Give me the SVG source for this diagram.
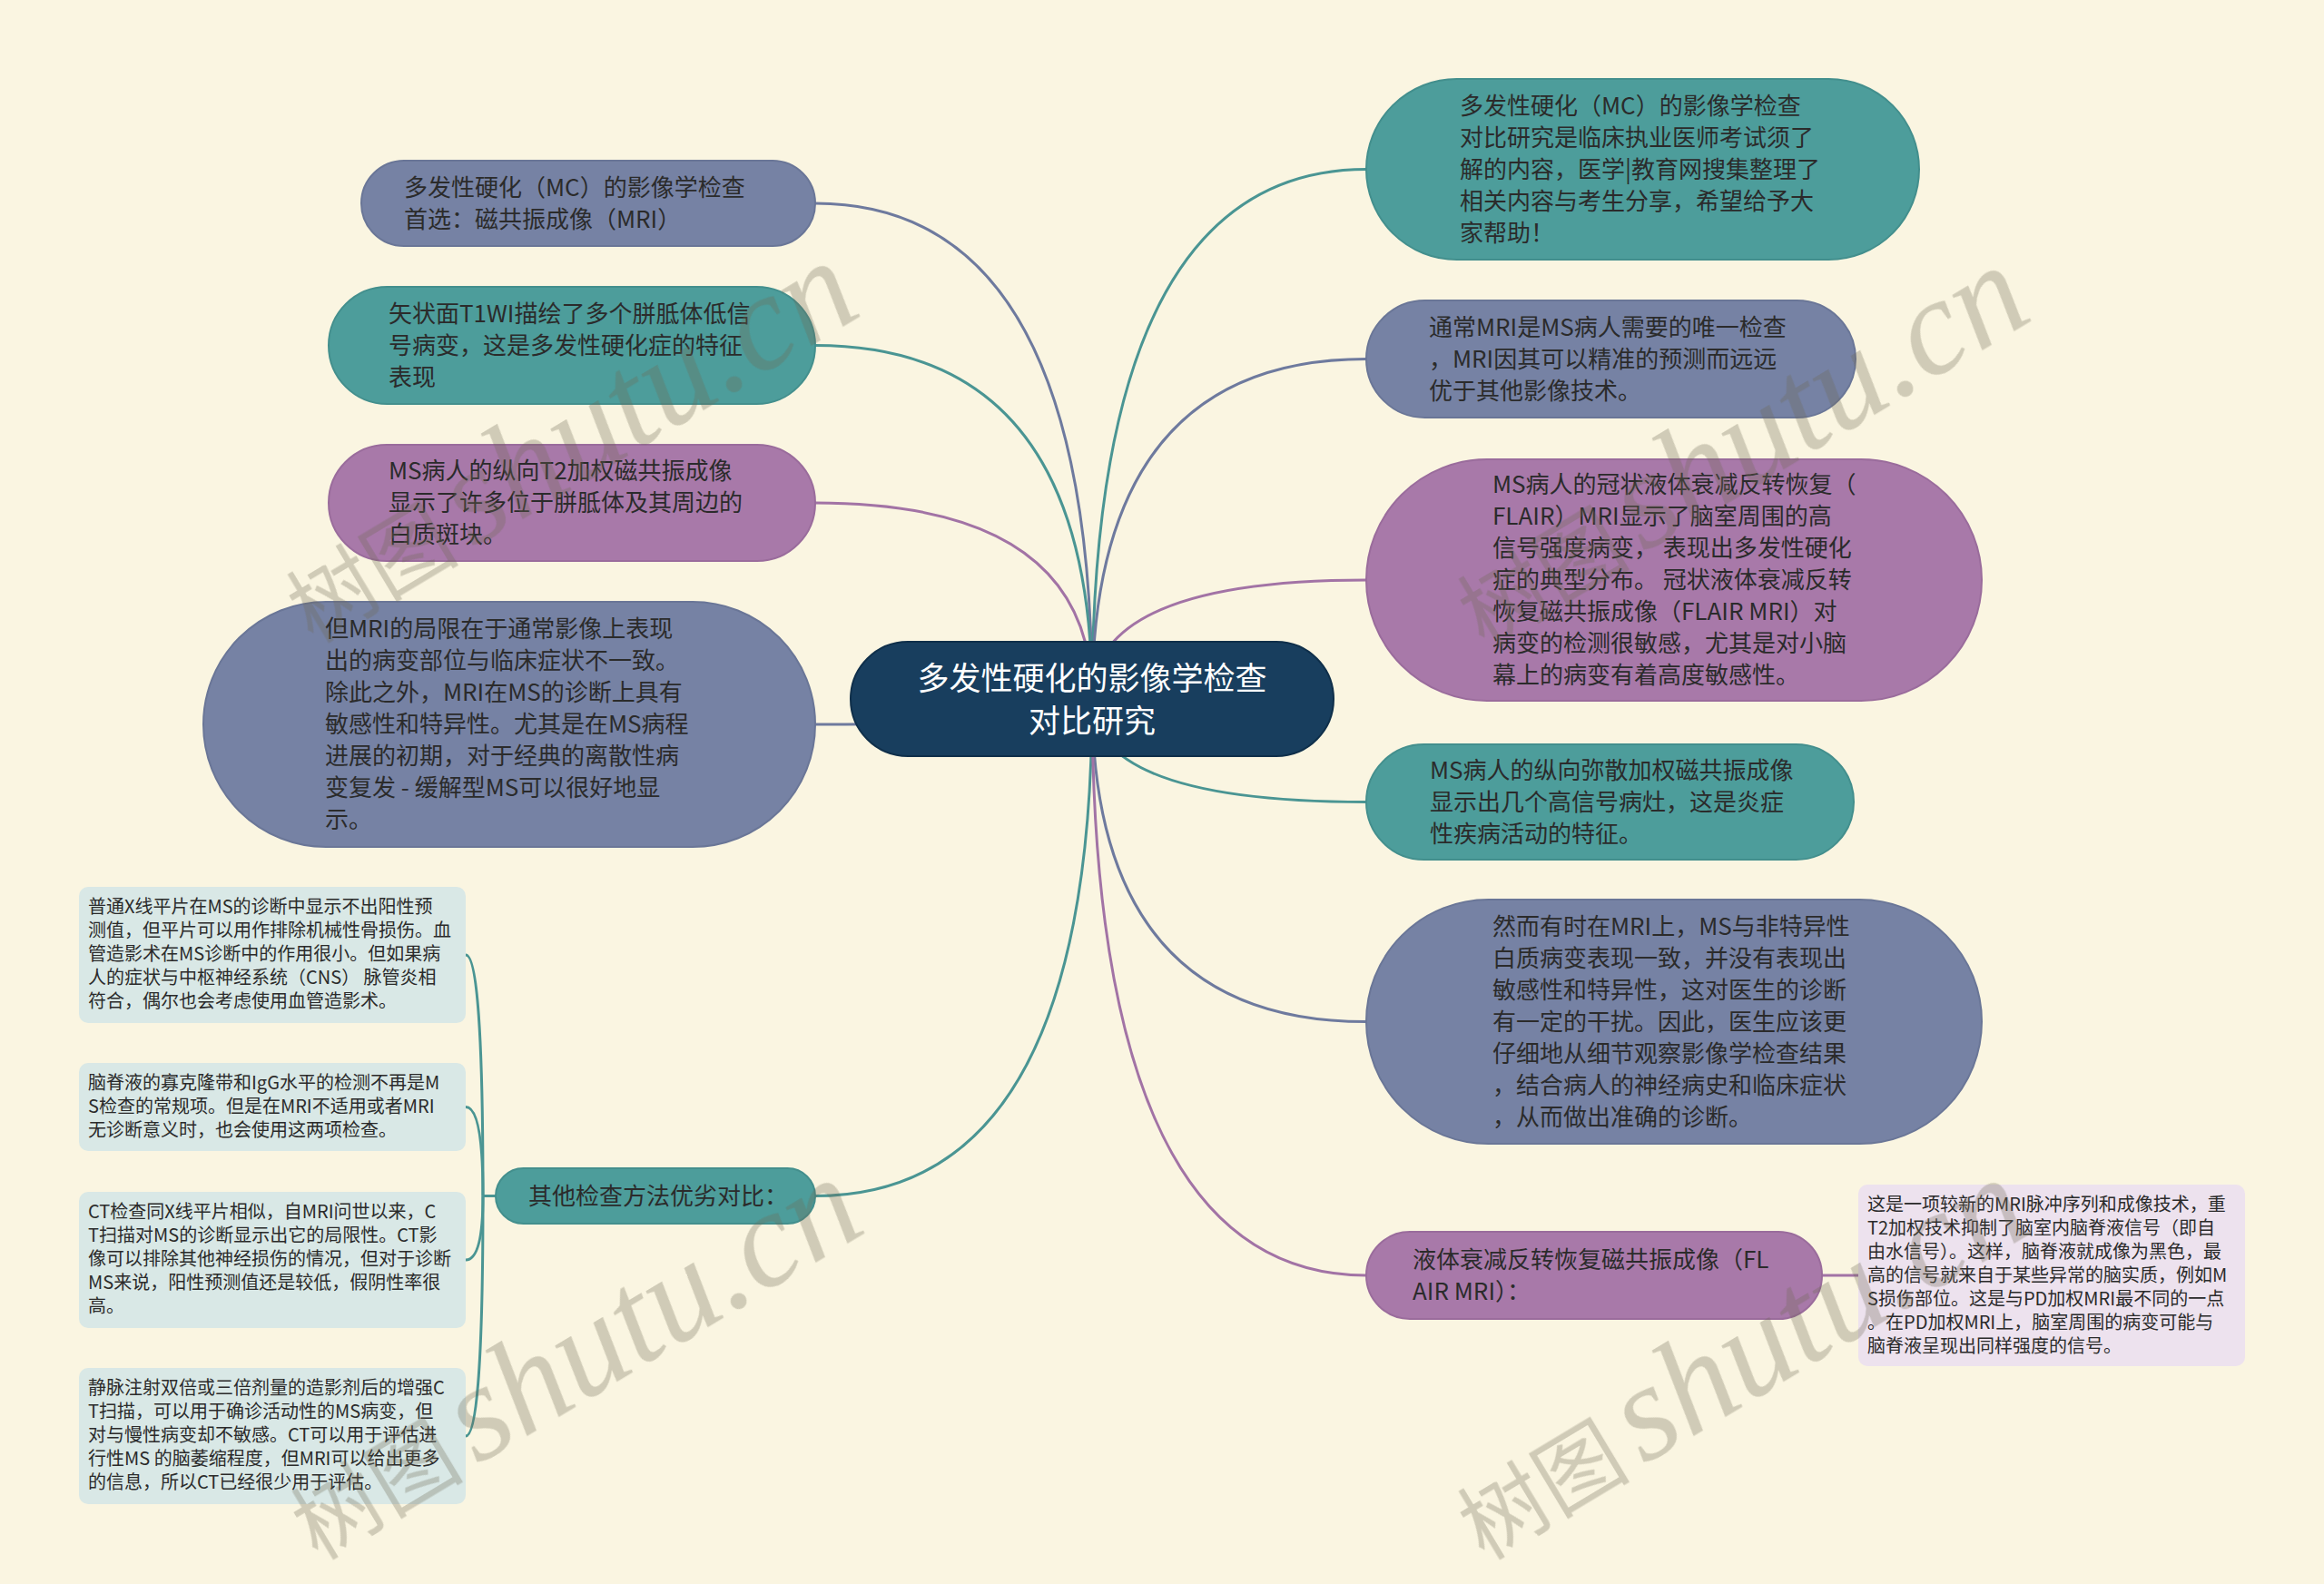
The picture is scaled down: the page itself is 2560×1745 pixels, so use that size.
<svg xmlns="http://www.w3.org/2000/svg" width="2560" height="1745" viewBox="0 0 2560 1745">
<style>
.t{font-family:"Noto Sans CJK SC","Liberation Sans",sans-serif;font-size:26px;fill:#2b2b2b}
.s{font-family:"Noto Sans CJK SC","Liberation Sans",sans-serif;font-size:20px;fill:#2b2b2b}
.c{font-family:"Noto Sans CJK SC","Liberation Sans",sans-serif;font-size:35px;fill:#ffffff;text-anchor:middle}
.slate{fill:#7682a4;stroke:#6a7697;stroke-width:2}
.teal{fill:#4d9d9b;stroke:#438f8d;stroke-width:2}
.purple{fill:#a879a9;stroke:#9a6c9c;stroke-width:2}
.subl{fill:#d9e8e6}
.subr{fill:#ede2ee}
.ls{fill:none;stroke:#6e7a9e;stroke-width:3}
.lt{fill:none;stroke:#4a9593;stroke-width:3}
.lp{fill:none;stroke:#a273a5;stroke-width:3}
.wm{fill:#6f6a55;opacity:0.3}
.wc{font-family:"Noto Sans CJK SC",sans-serif;font-size:95px}
.we{font-family:"Liberation Serif",serif;font-style:italic;font-size:150px}
</style>
<rect x="0" y="0" width="2560" height="1745" fill="#faf5e1"/>
<g id="connectors">
<path class="ls" d="M1203 770 Q1203 224 898 224"/>
<path class="lt" d="M1203 770 Q1203 380.5 898 380.5"/>
<path class="lp" d="M1203 770 Q1203 554 898 554"/>
<path class="ls" d="M1203 770 Q1203 798 898 798"/>
<path class="lt" d="M1203 770 Q1203 1317.5 898 1317.5"/>
<path class="lt" d="M1203 770 Q1203 186.5 1505 186.5"/>
<path class="ls" d="M1203 770 Q1203 395.5 1505 395.5"/>
<path class="lp" d="M1203 770 Q1203 639 1505 639"/>
<path class="lt" d="M1203 770 Q1203 883.5 1505 883.5"/>
<path class="ls" d="M1203 770 Q1203 1125.5 1505 1125.5"/>
<path class="lp" d="M1203 770 Q1203 1405 1505 1405"/>
<path class="lp" d="M2007 1405 L2047 1405"/>
<path class="lt" d="M548 1317.5 L532 1317.5"/>
<path class="lt" d="M532 1317.5 Q532 1052 513 1052"/>
<path class="lt" d="M532 1317.5 Q532 1219.5 513 1219.5"/>
<path class="lt" d="M532 1317.5 Q532 1388 513 1388"/>
<path class="lt" d="M532 1317.5 Q532 1582 513 1582"/>
</g>
<g id="center">
<rect x="937" y="707" width="532" height="126" rx="63" fill="#183e5e" stroke="#0f2f4a" stroke-width="2"/>
<text class="c" x="1203" y="759.5">多发性硬化的影像学检查</text>
<text class="c" x="1203" y="806.5">对比研究</text>
</g>
<g id="L1">
<rect class="slate" x="398" y="177" width="500" height="94" rx="47"/>
<text class="t" x="445" y="215.5">多发性硬化（MC）的影像学检查</text>
<text class="t" x="445" y="250.5">首选：磁共振成像（MRI）</text>
</g>
<g id="L2">
<rect class="teal" x="362" y="316" width="536" height="129" rx="64.5"/>
<text class="t" x="428" y="354.5">矢状面T1WI描绘了多个胼胝体低信</text>
<text class="t" x="428" y="389.5">号病变，这是多发性硬化症的特征</text>
<text class="t" x="428" y="424.5">表现</text>
</g>
<g id="L3">
<rect class="purple" x="362" y="490" width="536" height="128" rx="64"/>
<text class="t" x="428" y="528">MS病人的纵向T2加权磁共振成像</text>
<text class="t" x="428" y="563">显示了许多位于胼胝体及其周边的</text>
<text class="t" x="428" y="598">白质斑块。</text>
</g>
<g id="L4">
<rect class="slate" x="224" y="663" width="674" height="270" rx="135"/>
<text class="t" x="358" y="702">但MRI的局限在于通常影像上表现</text>
<text class="t" x="358" y="737">出的病变部位与临床症状不一致。</text>
<text class="t" x="358" y="772">除此之外，MRI在MS的诊断上具有</text>
<text class="t" x="358" y="807">敏感性和特异性。尤其是在MS病程</text>
<text class="t" x="358" y="842">进展的初期，对于经典的离散性病</text>
<text class="t" x="358" y="877">变复发 - 缓解型MS可以很好地显</text>
<text class="t" x="358" y="912">示。</text>
</g>
<g id="L5">
<rect class="teal" x="546" y="1287" width="352" height="61" rx="30.5"/>
<text class="t" x="582" y="1327">其他检查方法优劣对比：</text>
</g>
<g id="L5a">
<rect class="subl" x="87" y="977" width="426" height="150" rx="10"/>
<text class="s" x="97" y="1006">普通X线平片在MS的诊断中显示不出阳性预</text>
<text class="s" x="97" y="1032">测值，但平片可以用作排除机械性骨损伤。血</text>
<text class="s" x="97" y="1058">管造影术在MS诊断中的作用很小。但如果病</text>
<text class="s" x="97" y="1084">人的症状与中枢神经系统（CNS） 脉管炎相</text>
<text class="s" x="97" y="1110">符合，偶尔也会考虑使用血管造影术。</text>
</g>
<g id="L5b">
<rect class="subl" x="87" y="1171" width="426" height="97" rx="10"/>
<text class="s" x="97" y="1199.5">脑脊液的寡克隆带和IgG水平的检测不再是M</text>
<text class="s" x="97" y="1225.5">S检查的常规项。但是在MRI不适用或者MRI</text>
<text class="s" x="97" y="1251.5">无诊断意义时，也会使用这两项检查。</text>
</g>
<g id="L5c">
<rect class="subl" x="87" y="1313" width="426" height="150" rx="10"/>
<text class="s" x="97" y="1342">CT检查同X线平片相似，自MRI问世以来，C</text>
<text class="s" x="97" y="1368">T扫描对MS的诊断显示出它的局限性。CT影</text>
<text class="s" x="97" y="1394">像可以排除其他神经损伤的情况，但对于诊断</text>
<text class="s" x="97" y="1420">MS来说，阳性预测值还是较低，假阴性率很</text>
<text class="s" x="97" y="1446">高。</text>
</g>
<g id="L5d">
<rect class="subl" x="87" y="1507" width="426" height="150" rx="10"/>
<text class="s" x="97" y="1536">静脉注射双倍或三倍剂量的造影剂后的增强C</text>
<text class="s" x="97" y="1562">T扫描，可以用于确诊活动性的MS病变，但</text>
<text class="s" x="97" y="1588">对与慢性病变却不敏感。CT可以用于评估进</text>
<text class="s" x="97" y="1614">行性MS 的脑萎缩程度，但MRI可以给出更多</text>
<text class="s" x="97" y="1640">的信息，所以CT已经很少用于评估。</text>
</g>
<g id="R1">
<rect class="teal" x="1505" y="87" width="609" height="199" rx="99.5"/>
<text class="t" x="1608" y="125.5">多发性硬化（MC）的影像学检查</text>
<text class="t" x="1608" y="160.5">对比研究是临床执业医师考试须了</text>
<text class="t" x="1608" y="195.5">解的内容，医学|教育网搜集整理了</text>
<text class="t" x="1608" y="230.5">相关内容与考生分享，希望给予大</text>
<text class="t" x="1608" y="265.5">家帮助！</text>
</g>
<g id="R2">
<rect class="slate" x="1505" y="331" width="539" height="129" rx="64.5"/>
<text class="t" x="1574" y="369.5">通常MRI是MS病人需要的唯一检查</text>
<text class="t" x="1574" y="404.5">，MRI因其可以精准的预测而远远</text>
<text class="t" x="1574" y="439.5">优于其他影像技术。</text>
</g>
<g id="R3">
<rect class="purple" x="1505" y="506" width="678" height="266" rx="133"/>
<text class="t" x="1644" y="543">MS病人的冠状液体衰减反转恢复（</text>
<text class="t" x="1644" y="578">FLAIR）MRI显示了脑室周围的高</text>
<text class="t" x="1644" y="613">信号强度病变， 表现出多发性硬化</text>
<text class="t" x="1644" y="648">症的典型分布。 冠状液体衰减反转</text>
<text class="t" x="1644" y="683">恢复磁共振成像（FLAIR MRI）对</text>
<text class="t" x="1644" y="718">病变的检测很敏感，尤其是对小脑</text>
<text class="t" x="1644" y="753">幕上的病变有着高度敏感性。</text>
</g>
<g id="R4">
<rect class="teal" x="1505" y="820" width="537" height="127" rx="63.5"/>
<text class="t" x="1575" y="857.5">MS病人的纵向弥散加权磁共振成像</text>
<text class="t" x="1575" y="892.5">显示出几个高信号病灶，这是炎症</text>
<text class="t" x="1575" y="927.5">性疾病活动的特征。</text>
</g>
<g id="R5">
<rect class="slate" x="1505" y="991" width="678" height="269" rx="134.5"/>
<text class="t" x="1644" y="1029.5">然而有时在MRI上，MS与非特异性</text>
<text class="t" x="1644" y="1064.5">白质病变表现一致，并没有表现出</text>
<text class="t" x="1644" y="1099.5">敏感性和特异性，这对医生的诊断</text>
<text class="t" x="1644" y="1134.5">有一定的干扰。因此，医生应该更</text>
<text class="t" x="1644" y="1169.5">仔细地从细节观察影像学检查结果</text>
<text class="t" x="1644" y="1204.5">，结合病人的神经病史和临床症状</text>
<text class="t" x="1644" y="1239.5">，从而做出准确的诊断。</text>
</g>
<g id="R6">
<rect class="purple" x="1505" y="1357" width="502" height="96" rx="48"/>
<text class="t" x="1556" y="1396.5">液体衰减反转恢复磁共振成像（FL</text>
<text class="t" x="1556" y="1431.5">AIR MRI）：</text>
</g>
<g id="R6a">
<rect class="subr" x="2047" y="1305" width="426" height="200" rx="10"/>
<text class="s" x="2057" y="1334">这是一项较新的MRI脉冲序列和成像技术，重</text>
<text class="s" x="2057" y="1360">T2加权技术抑制了脑室内脑脊液信号（即自</text>
<text class="s" x="2057" y="1386">由水信号）。这样，脑脊液就成像为黑色，最</text>
<text class="s" x="2057" y="1412">高的信号就来自于某些异常的脑实质，例如M</text>
<text class="s" x="2057" y="1438">S损伤部位。这是与PD加权MRI最不同的一点</text>
<text class="s" x="2057" y="1464">。在PD加权MRI上，脑室周围的病变可能与</text>
<text class="s" x="2057" y="1490">脑脊液呈现出同样强度的信号。</text>
</g>
<g id="watermarks" class="wm">
<g transform="translate(345,710) rotate(-31)"><text class="wc" x="0" y="0">树图</text><text class="we" x="205" y="0">shutu.cn</text></g>
<g transform="translate(1635,715) rotate(-31)"><text class="wc" x="0" y="0">树图</text><text class="we" x="205" y="0">shutu.cn</text></g>
<g transform="translate(350,1720) rotate(-31)"><text class="wc" x="0" y="0">树图</text><text class="we" x="205" y="0">shutu.cn</text></g>
<g transform="translate(1635,1720) rotate(-31)"><text class="wc" x="0" y="0">树图</text><text class="we" x="205" y="0">shutu.cn</text></g>
</g>
</svg>
